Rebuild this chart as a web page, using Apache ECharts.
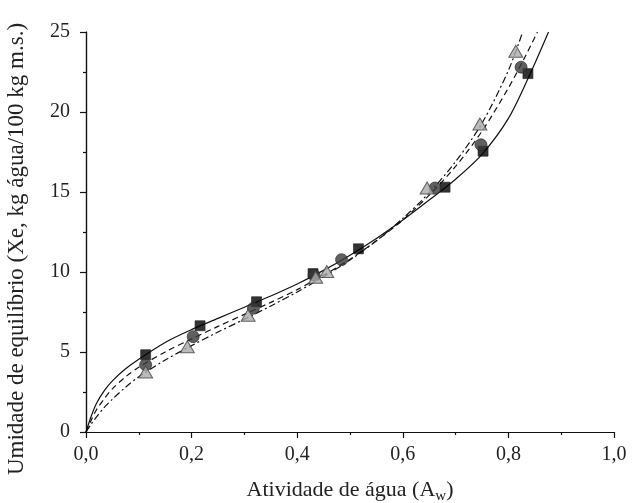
<!DOCTYPE html>
<html>
<head>
<meta charset="utf-8">
<script src="https://cdn.jsdelivr.net/npm/echarts@6/dist/echarts.min.js"></script>
<style>html,body{margin:0;padding:0;background:#fff}#c{width:633px;height:503px}</style>
</head>
<body>
<div id="c"></div>
<script>
// Observed data (water activity, equilibrium moisture)
const squareAw = [0.113, 0.216, 0.323, 0.430, 0.516, 0.680, 0.752, 0.837];
const squareXe = [4.83, 6.64, 8.14, 9.90, 11.45, 15.30, 17.55, 22.40];
const circleAw = [0.113, 0.203, 0.317, 0.432, 0.484, 0.661, 0.748, 0.824];
const circleXe = [4.20, 5.96, 7.73, 9.80, 10.77, 15.25, 17.95, 22.80];
const triangleAw = [0.113, 0.192, 0.307, 0.435, 0.456, 0.646, 0.746, 0.814];
const triangleXe = [3.75, 5.33, 7.30, 9.67, 10.03, 15.25, 19.25, 23.80];

// Fitted curves
const solidAw = [0, 0.01, 0.02, 0.035, 0.05, 0.075, 0.1, 0.15, 0.2, 0.25, 0.3, 0.35, 0.4, 0.45, 0.5, 0.55, 0.6, 0.65, 0.7, 0.75, 0.8, 0.84, 0.876];
const solidXe = [0, 1.0, 1.8, 2.6, 3.2, 3.95, 4.55, 5.6, 6.4, 7.1, 7.8, 8.5, 9.25, 10.1, 11.05, 12.1, 13.25, 14.5, 15.8, 17.35, 19.6, 22.3, 25];
const dashedAw = [0, 0.01, 0.02, 0.035, 0.05, 0.075, 0.1, 0.15, 0.2, 0.25, 0.3, 0.35, 0.4, 0.45, 0.5, 0.55, 0.6, 0.65, 0.7, 0.75, 0.8, 0.83, 0.855];
const dashedXe = [0, 0.75, 1.4, 2.1, 2.7, 3.45, 4.05, 5.0, 5.82, 6.6, 7.35, 8.1, 8.9, 9.8, 10.8, 11.95, 13.25, 14.8, 16.6, 18.8, 21.5, 23.35, 25];
const dashDotAw = [0, 0.01, 0.02, 0.035, 0.05, 0.075, 0.1, 0.15, 0.2, 0.25, 0.3, 0.35, 0.4, 0.45, 0.5, 0.55, 0.6, 0.65, 0.7, 0.75, 0.8, 0.827];
const dashDotXe = [0, 0.5, 0.95, 1.55, 2.05, 2.8, 3.45, 4.5, 5.4, 6.25, 7.05, 7.88, 8.75, 9.7, 10.75, 11.95, 13.35, 14.95, 16.9, 19.3, 22.6, 25];

const xTickLabels = ['0,0', '0,2', '0,4', '0,6', '0,8', '1,0'];
const yTickLabels = ['0', '5', '10', '15', '20', '25'];

const zip = (a, b) => a.map((v, i) => [v, b[i]]);
const font = "'Liberation Serif', 'DejaVu Serif', serif";

const chart = echarts.init(document.getElementById('c'), null, {renderer: 'canvas'});
chart.setOption({
  animation: false,
  backgroundColor: '#fff',
  grid: {left: 86, right: 19, top: 32, bottom: 71, containLabel: false, outerBoundsMode: 'none'},
  xAxis: [{
    type: 'value', min: 0, max: 1, interval: 0.2, position: 'bottom',
    name: '{a|Atividade de água (A}{s|w}{a|)}', nameLocation: 'middle', nameGap: 45,
    nameTextStyle: {rich: {
      a: {fontFamily: font, fontSize: 22, color: '#222'},
      s: {fontFamily: font, fontSize: 15, color: '#222', verticalAlign: 'bottom', padding: [12, 0, 0, 0]}
    }},
    axisLine: {show: true, lineStyle: {color: '#111', width: 1.2}},
    axisTick: {show: true, inside: false, length: 6, lineStyle: {color: '#111', width: 1.2}},
    minorTick: {show: true, splitNumber: 2, length: 3, lineStyle: {color: '#111', width: 1.2}},
    axisLabel: {fontFamily: font, fontSize: 20, color: '#222', margin: 13,
      formatter: (v) => xTickLabels[Math.round(v / 0.2)]},
    splitLine: {show: false}
  }, {
    type: 'value', min: 0, max: 1, interval: 0.1, position: 'top',
    axisLine: {show: true, lineStyle: {color: '#111', width: 1.2}},
    axisTick: {show: true, inside: true, length: 3, lineStyle: {color: '#111', width: 1}},
    axisLabel: {show: false}, splitLine: {show: false}
  }],
  yAxis: [{
    type: 'value', min: 0, max: 25, interval: 5, position: 'left',
    name: 'Umidade de equilíbrio (Xe, kg água/100 kg m.s.)', nameLocation: 'middle', nameGap: 58,
    nameTextStyle: {fontFamily: font, fontSize: 23, color: '#222', padding: [0, 34, 0, 0]},
    axisLine: {show: true, lineStyle: {color: '#111', width: 1.2}},
    axisTick: {show: true, inside: false, length: 6, lineStyle: {color: '#111', width: 1.2}},
    minorTick: {show: true, splitNumber: 2, length: 3, lineStyle: {color: '#111', width: 1.2}},
    axisLabel: {fontFamily: font, fontSize: 20, color: '#222', margin: 16,
      formatter: (v) => yTickLabels[Math.round(v / 5)]},
    splitLine: {show: false}
  }, {
    type: 'value', min: 0, max: 25, interval: 2.5, position: 'right',
    axisLine: {show: true, lineStyle: {color: '#111', width: 1.2}},
    axisTick: {show: true, inside: true, length: 3, lineStyle: {color: '#111', width: 1}},
    axisLabel: {show: false}, splitLine: {show: false}
  }],
  series: [
    {type: 'line', data: zip(solidAw, solidXe), smooth: 0.3, showSymbol: false, symbol: 'none',
      lineStyle: {color: '#111', width: 1.2, type: 'solid'}, z: 2, silent: true},
    {type: 'line', data: zip(dashedAw, dashedXe), smooth: 0.3, showSymbol: false, symbol: 'none',
      lineStyle: {color: '#111', width: 1.2, type: [6, 4]}, z: 2, silent: true},
    {type: 'line', data: zip(dashDotAw, dashDotXe), smooth: 0.3, showSymbol: false, symbol: 'none',
      lineStyle: {color: '#111', width: 1.2, type: [7, 3, 2, 3]}, z: 2, silent: true},
    {type: 'scatter', data: zip(squareAw, squareXe), symbol: 'rect', symbolSize: 10,
      itemStyle: {color: '#000', borderColor: '#222', borderWidth: 0.8}, z: 3},
    {type: 'scatter', data: zip(circleAw, circleXe), symbol: 'circle', symbolSize: 12,
      itemStyle: {color: '#383838', borderColor: '#222', borderWidth: 0.8}, z: 4},
    {type: 'scatter', data: zip(triangleAw, triangleXe), symbol: 'triangle', symbolSize: [14, 12],
      itemStyle: {color: '#aaaaaa', borderColor: '#444', borderWidth: 1}, z: 5}
  ]
});
</script>
</body>
</html>
